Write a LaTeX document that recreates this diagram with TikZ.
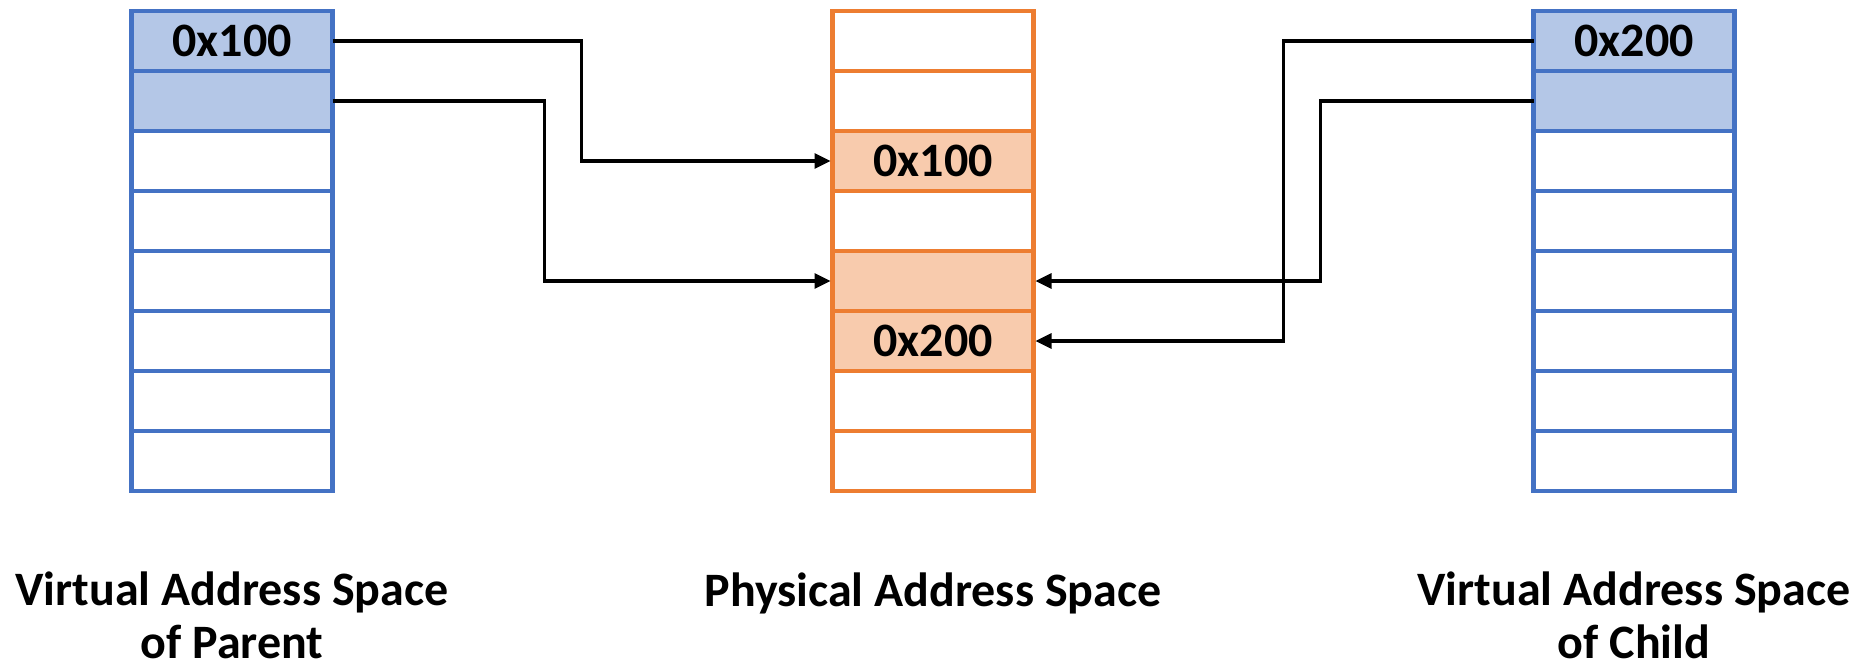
\documentclass[tikz,border=0pt]{standalone}
\usepackage{fontspec}
\setmainfont{Carlito}
\usetikzlibrary{positioning,arrows.meta}
\definecolor{vline}{HTML}{4472C4}
\definecolor{vfill}{HTML}{B4C7E7}
\definecolor{pline}{HTML}{ED7D31}
\definecolor{pfill}{HTML}{F8CBAD}

\begin{document}
\begin{tikzpicture}[x=0.5pt,y=-0.5pt,node distance=0pt,
  vcell/.style={draw=vline,fill=white,line width=2.2pt,outer sep=0pt,inner sep=0pt,
    minimum width=100.5pt,minimum height=30pt,font=\bfseries\fontsize{24}{29}\selectfont},
  vhi/.style={vcell,fill=vfill},
  pcell/.style={vcell,draw=pline},
  phi/.style={pcell,fill=pfill},
  lab/.style={align=center,anchor=base,font=\bfseries\fontsize{24}{26.5}\selectfont},
  arr/.style={-{Triangle[length=8pt,width=7.5pt]},line width=1.6pt,shorten >=1pt}]
\useasboundingbox (0,0) rectangle (1862,665);
% parent
\node[vhi] (p0) at (232,41) {0x100};
\node[vhi,below=of p0] (p1) {};
\node[vcell,below=of p1] (p2) {};
\node[vcell,below=of p2] (p3) {};
\node[vcell,below=of p3] (p4) {};
\node[vcell,below=of p4] (p5) {};
\node[vcell,below=of p5] (p6) {};
\node[vcell,below=of p6] (p7) {};
% physical memory
\node[pcell] (m0) at (933,41) {};
\node[pcell,below=of m0] (m1) {};
\node[phi,below=of m1] (m2) {0x100};
\node[pcell,below=of m2] (m3) {};
\node[phi,below=of m3] (m4) {};
\node[phi,below=of m4] (m5) {0x200};
\node[pcell,below=of m5] (m6) {};
\node[pcell,below=of m6] (m7) {};
% child
\node[vhi] (c0) at (1634,41) {0x200};
\node[vhi,below=of c0] (c1) {};
\node[vcell,below=of c1] (c2) {};
\node[vcell,below=of c2] (c3) {};
\node[vcell,below=of c3] (c4) {};
\node[vcell,below=of c4] (c5) {};
\node[vcell,below=of c5] (c6) {};
\node[vcell,below=of c6] (c7) {};
% labels
\node[lab] (plab) at (232,658) {Virtual Address Space\\of Parent};
\node[lab] (mlab) at (933,606) {Physical Address Space};
\node[lab] (clab) at (1634,658) {Virtual Address Space\\of Child};
% mappings
\draw[arr] (p0.east) -- ++(249,0) |- (m2.west);
\draw[arr] (p1.east) -- ++(212,0) |- (m4.west);
\draw[arr] (c0.west) -- ++(-250,0) |- (m5.east);
\draw[arr] (c1.west) -- ++(-213,0) |- (m4.east);
\end{tikzpicture}
\end{document}
